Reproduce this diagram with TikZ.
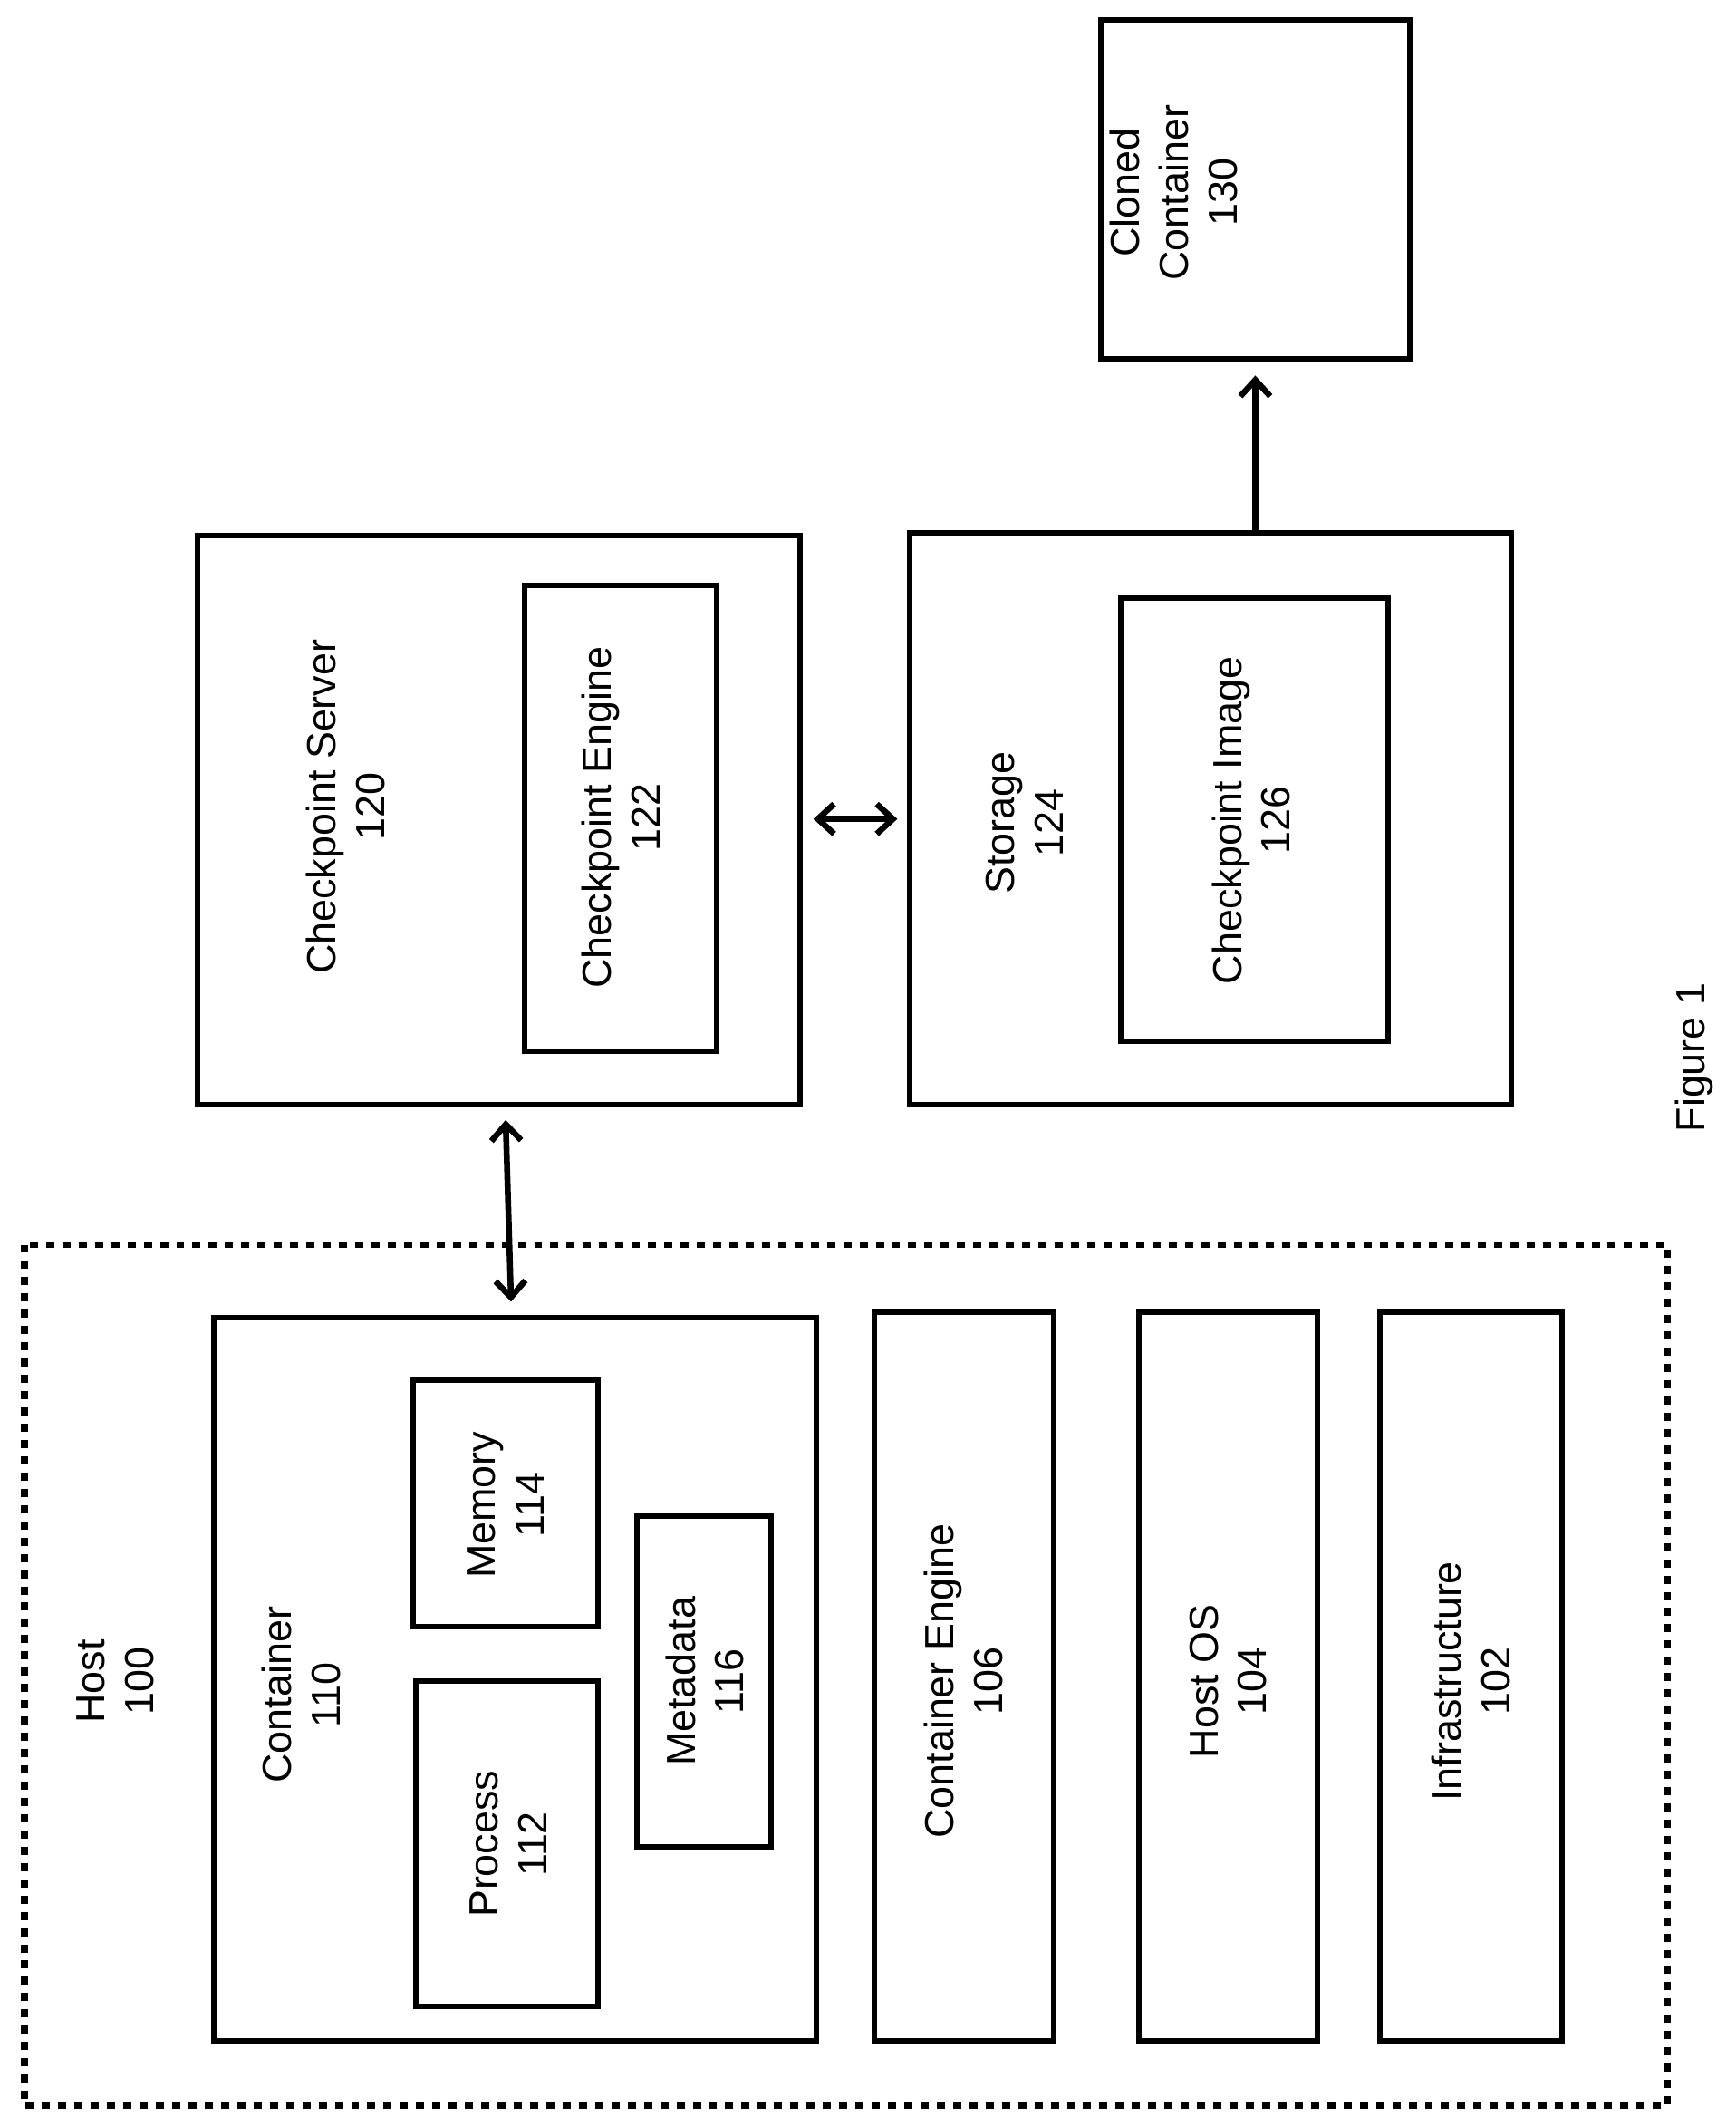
\documentclass[tikz,border=0pt]{standalone}
\usepackage{fontspec}
\setmainfont{Liberation Sans}
\usetikzlibrary{arrows.meta}
\begin{document}
\begin{tikzpicture}[x=0.5pt,y=-0.5pt,
  box/.style={draw,line width=2pt},
  lbl/.style={rotate=90,align=center,font=\fontsize{15}{18}\selectfont},
  arr/.style={line width=2.2pt,-{Straight Barb[length=6pt,width=11pt,line width=2.2pt]}},
  darr/.style={line width=2.2pt,{Straight Barb[length=6pt,width=11pt,line width=2.2pt]}-{Straight Barb[length=6pt,width=11pt,line width=2.2pt]}}]
\useasboundingbox (0,0) rectangle (1280,1568);
\draw[line width=2.4pt,dash pattern=on 3pt off 3pt] (18,918) rectangle (1230,1553);
\node[lbl] (hostl) at (85,1240) {Host\\100};
\draw[box] (158,972) rectangle (602,1505);
\node[lbl] (contl) at (222,1250) {Container\\110};
\draw[box] (307,1240) rectangle (441,1480); \node[lbl] (proc) at (375,1360) {Process\\112};
\draw[box] (305,1018) rectangle (441,1200); \node[lbl] (mem) at (373,1110) {Memory\\114};
\draw[box] (470,1118) rectangle (569,1362); \node[lbl] (meta) at (520,1240) {Metadata\\116};
\draw[box] (645,968) rectangle (777,1505); \node[lbl] (ce) at (711,1240) {Container Engine\\106};
\draw[box] (840,968) rectangle (972,1505); \node[lbl] (os) at (906,1240) {Host OS\\104};
\draw[box] (1018,968) rectangle (1152,1505); \node[lbl] (inf) at (1085,1240) {Infrastructure\\102};
\draw[box] (146,395) rectangle (590,815); \node[lbl] (cs) at (255,595) {Checkpoint Server\\120};
\draw[box] (387,432) rectangle (529,775); \node[lbl] (cen) at (458,603) {Checkpoint Engine\\122};
\draw[box] (671,393) rectangle (1115,815); \node[lbl] (st) at (756,607) {Storage\\124};
\draw[box] (827,441) rectangle (1024,768); \node[lbl] (ci) at (923,605) {Checkpoint Image\\126};
\draw[box] (812,15) rectangle (1040,265); \node[lbl] (cc) at (866,142) {Cloned\\Container\\130};
\node[lbl] (fig) at (1250,780) {Figure 1};
\coordinate (a1) at (373,826); \coordinate (a2) at (377,960);
\draw[darr] (a1) -- (a2);
\coordinate (b1) at (600,604); \coordinate (b2) at (662,604);
\draw[darr] (b1) -- (b2);
\coordinate (c1) at (926,392); \coordinate (c2) at (926,277);
\draw[arr] (c1) -- (c2);
\end{tikzpicture}
\end{document}
